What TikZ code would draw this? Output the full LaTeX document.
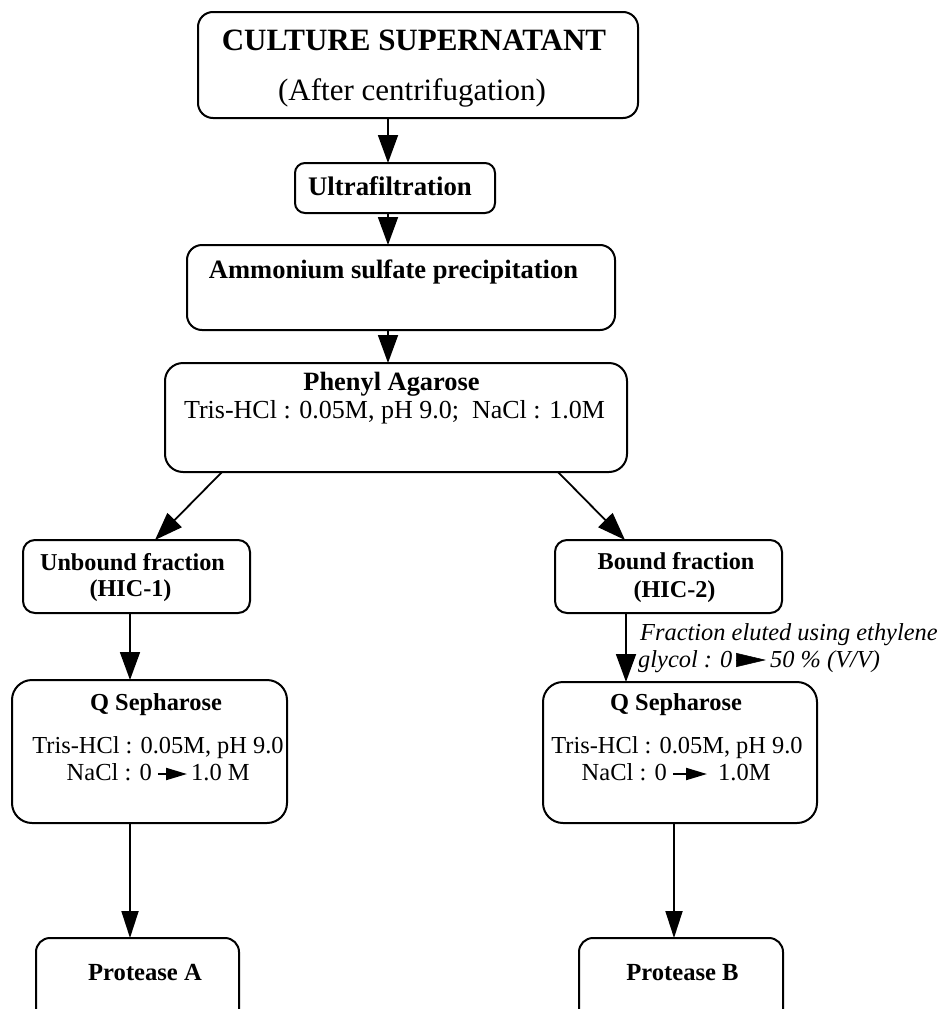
\documentclass[tikz,border=0pt]{standalone}
\usepackage{fontspec}
\setmainfont{Liberation Serif}
\usetikzlibrary{arrows.meta}
\tikzset{
  box/.style={draw, line width=2pt, rounded corners=#1, inner sep=0pt, outer sep=0pt},
  box/.default=12pt,
  arr/.style={line width=1.8pt, -{Triangle[length=28pt,width=20pt]}},
  arrs/.style={line width=1.8pt, -{Triangle[length=27pt,width=17pt]}},
  minarr/.style={line width=2pt, -{Triangle[length=21pt,width=12pt]}},
  txt/.style={anchor=base, inner sep=0pt},
  txtl/.style={anchor=base west, inner sep=0pt},
  txtr/.style={anchor=base east, inner sep=0pt},
}
\newcommand\fs[1]{\fontsize{#1}{#1}\selectfont}
\begin{document}
\begin{tikzpicture}[x=1pt,y=-1pt]
\useasboundingbox (0,0) rectangle (940,1009);
\fill[white] (0,0) rectangle (940,1009);
\clip (0,0) rectangle (940,1009);

% guide coordinates for arrow columns
\coordinate (ax) at (388,0);
\coordinate (lx) at (130,0);
\coordinate (rx) at (626,0);
\coordinate (rx2) at (674,0);

% boxes
\node[box=15pt, minimum width=440pt, minimum height=106pt] (top) at (418,65) {};
\node[box=10pt, minimum width=200pt, minimum height=50pt] (ultra) at (395,188) {};
\node[box=15pt, minimum width=428pt, minimum height=85pt] (ammon) at (401,287.5) {};
\node[box=18pt, minimum width=462pt, minimum height=109pt] (phenyl) at (396,417.5) {};
\node[box=12pt, minimum width=227pt, minimum height=73pt] (unbound) at (136.5,576.5) {};
\node[box=12pt, minimum width=227pt, minimum height=73pt] (bound) at (668.5,576.5) {};
\node[box=20pt, minimum width=275pt, minimum height=143pt] (qleft) at (149.5,751.5) {};
\node[box=20pt, minimum width=274pt, minimum height=141pt] (qright) at (680,752.5) {};
\node[box=14pt, minimum width=203pt, minimum height=110pt] (protA) at (137.5,993) {};
\node[box=14pt, minimum width=204pt, minimum height=110pt] (protB) at (681,993) {};

% texts
\node[txt, font=\fs{31}\bfseries] (t1) at (414,50) {CULTURE SUPERNATANT};
\node[txt, font=\fs{31}] (t2) at (412,100) {(After centrifugation)};
\node[txt, font=\fs{26.8}\bfseries] (t3) at (390,195) {Ultrafiltration};
\node[txt, font=\fs{26.5}\bfseries] (t4) at (393.5,278) {Ammonium sulfate precipitation};
\node[txt, font=\fs{26.4}\bfseries] (t5) at (391.5,390) {Phenyl Agarose};
\node[txt, font=\fs{26}] (t6) at (394.5,418) {Tris-HCl : 0.05M, pH 9.0;\ \ NaCl : 1.0M};
\node[txt, font=\fs{24.2}\bfseries] (t7) at (132.5,570) {Unbound fraction};
\node[txt, font=\fs{24.2}\bfseries] (t8) at (130.5,596) {(HIC-1)};
\node[txt, font=\fs{24.2}\bfseries] (t9) at (676,569) {Bound fraction};
\node[txt, font=\fs{24.2}\bfseries] (t10) at (674.5,597) {(HIC-2)};
\node[txt, font=\fs{24.4}\bfseries] (t11) at (156,710) {Q Sepharose};
\node[txt, font=\fs{24.4}] (t12) at (158,753) {Tris-HCl : 0.05M, pH 9.0};
\node[txtr, font=\fs{24.5}] (naclL) at (152,780) {NaCl : 0};
\node[txtl, font=\fs{24.5}] (oneL) at (191,780) {1.0 M};
\node[txt, font=\fs{24.4}\bfseries] (t13) at (676,710) {Q Sepharose};
\node[txt, font=\fs{24.4}] (t14) at (677,753) {Tris-HCl : 0.05M, pH 9.0};
\node[txtr, font=\fs{24.5}] (naclR) at (667,780) {NaCl : 0};
\node[txtl, font=\fs{24.5}] (oneR) at (718,780) {1.0M};
\node[txtl, font=\fs{24.4}\itshape] (e1) at (640,640) {Fraction eluted using ethylene};
\node[txtl, font=\fs{24.4}\itshape] (e2) at (638,667) {glycol : 0};
\node[txtl, font=\fs{24.4}\itshape] (e3) at (770,667) {50 \% (V/V)};
\node[txt, font=\fs{24.6}\bfseries] (t15) at (145,980) {Protease A};
\node[txt, font=\fs{24.6}\bfseries] (t16) at (682.5,980) {Protease B};

% connectors
\draw[arr] (top.south -| ax) -- (ultra.north -| ax);
\draw[arr] (ultra.south -| ax) -- (ammon.north -| ax);
\draw[arr] (ammon.south -| ax) -- (phenyl.north -| ax);
\draw[arr] ([xshift=-174pt]phenyl.south) -- ([xshift=18.5pt]unbound.north);
\draw[arr] ([xshift=162pt]phenyl.south) -- ([xshift=-43.5pt]bound.north);
\draw[arr] (unbound.south -| lx) -- (qleft.north -| lx);
\draw[arr] (bound.south -| rx) -- (qright.north -| rx);
\draw[arrs] (qleft.south -| lx) -- (protA.north -| lx);
\draw[arrs] (qright.south -| rx2) -- (protB.north -| rx2);

% gradient arrows inside texts
\draw[minarr] ([xshift=6pt,yshift=6pt]naclL.base east) -- ([xshift=-4pt,yshift=6pt]oneL.base west);
\draw[minarr] ([xshift=6pt,yshift=6pt]naclR.base east) -- ([xshift=-11pt,yshift=6pt]oneR.base west);
\draw[line width=0.5pt, -{Triangle[length=30pt,width=14pt]}] ([xshift=5pt,yshift=7pt]e2.base east) -- ([xshift=-4pt,yshift=7pt]e3.base west);
\end{tikzpicture}
\end{document}
